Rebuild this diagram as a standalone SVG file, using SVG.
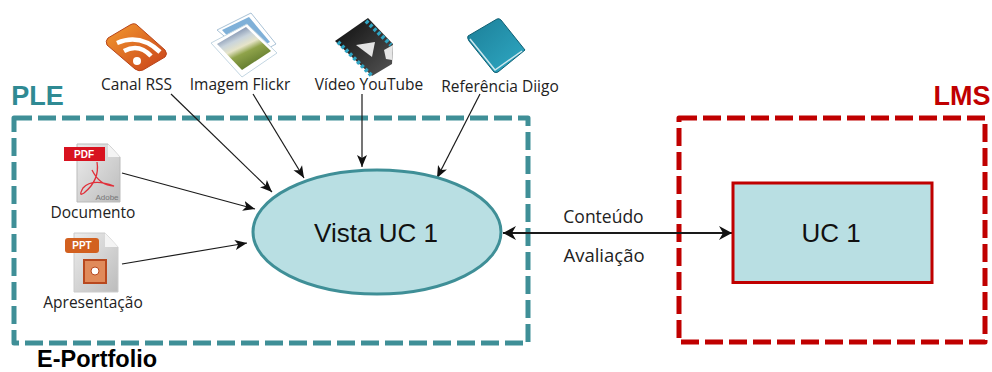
<svg xmlns="http://www.w3.org/2000/svg" width="992" height="372" viewBox="0 0 992 372">
<defs>
<style>
.lbl{font-family:"Open Sans","DejaVu Sans",sans-serif;font-size:15.5px;fill:#222;text-anchor:middle}
.lnk{font-size:17.5px}
.big{font-family:"Liberation Sans",Arial,sans-serif;font-size:26px;fill:#111;text-anchor:middle}
.head{font-family:"Liberation Sans",Arial,sans-serif;font-size:27px;font-weight:bold;text-anchor:middle}
.tag{font-family:"Liberation Sans",Arial,sans-serif;font-weight:bold;fill:#fff;text-anchor:middle}
.cn{fill:none;stroke:#1a1a1a;stroke-width:1.2;marker-end:url(#a)}
</style>
<marker id="a" markerUnits="userSpaceOnUse" markerWidth="14" markerHeight="12" refX="12" refY="6" orient="auto"><path d="M0 1 L12 6 L0 11 L3 6 Z" fill="#111"/></marker>
<marker id="b" markerUnits="userSpaceOnUse" markerWidth="16" markerHeight="16" refX="14" refY="8" orient="auto-start-reverse"><path d="M1 1 L14 8 L1 15 L5 8 Z" fill="#111"/></marker>
<linearGradient id="rss" x1="0" y1="0" x2="1" y2="1"><stop offset="0" stop-color="#f39a30"/><stop offset="1" stop-color="#c8401a"/></linearGradient>
<linearGradient id="pg" x1="0" y1="0" x2="1" y2="1"><stop offset="0" stop-color="#ececec"/><stop offset="1" stop-color="#bcbcbc"/></linearGradient>
<linearGradient id="ph" x1="0.2" y1="0" x2="0.8" y2="1"><stop offset="0" stop-color="#4f6490"/><stop offset=".3" stop-color="#c9d4dc"/><stop offset=".45" stop-color="#e6e4c8"/><stop offset=".58" stop-color="#8fa34a"/><stop offset="1" stop-color="#4f6a22"/></linearGradient>
<linearGradient id="vid" x1="0" y1="0" x2="1" y2="1"><stop offset="0" stop-color="#0c0c0c"/><stop offset="1" stop-color="#555"/></linearGradient>
<linearGradient id="book" x1="0" y1="0" x2="1" y2="1"><stop offset="0" stop-color="#1c7f98"/><stop offset="1" stop-color="#2fa9c4"/></linearGradient>
</defs>
<rect width="992" height="372" fill="#fff"/>

<g id="ple">
<rect x="14" y="118" width="514" height="225" fill="none" stroke="#3f8f97" stroke-width="5" stroke-dasharray="18 6" stroke-linejoin="round"/>
<text x="37.500" y="105" class="head" style="fill:#2f8a93">PLE</text>
<text x="97" y="366.500" style="font-family:'Liberation Sans',Arial,sans-serif;font-size:23.500px;font-weight:bold;fill:#000;text-anchor:middle">E-Portfolio</text>
</g>

<g id="lms">
<rect x="679" y="118" width="306" height="224" fill="none" stroke="#c00000" stroke-width="5" stroke-dasharray="18 6" stroke-linejoin="round"/>
<text x="962" y="105" class="head" style="fill:#c00000">LMS</text>
</g>

<g id="connectors">
<path class="cn" d="M171 94 L272 192"/>
<path class="cn" d="M253 94 L304 178"/>
<path class="cn" d="M362 94 L362 167"/>
<path class="cn" d="M480 94 L437 178"/>
<path class="cn" d="M122 173 L255 209"/>
<path class="cn" d="M122 264 L247 243"/>
<path d="M503 233 L732 233" fill="none" stroke="#1a1a1a" stroke-width="2" marker-start="url(#b)" marker-end="url(#b)"/>
</g>

<g id="vista-uc">
<ellipse cx="377" cy="232" rx="124" ry="62" fill="#b9dfe3" stroke="#3f8f97" stroke-width="3"/>
<text x="376" y="242" class="big">Vista UC 1</text>
</g>

<g id="uc1">
<rect x="733" y="183" width="199" height="99.500" fill="#b9dfe3" stroke="#c00000" stroke-width="3"/>
<text x="831" y="242" class="big">UC 1</text>
</g>

<g id="canal-rss">
<path d="M107 45 Q105 41 108 38 L130 25 Q135 22 138 26 L165 50 Q168 54 165 57 L143 70 Q139 72 135 69 Z" fill="url(#rss)" stroke="#b8441a" stroke-width="1"/>
<path d="M117 43 Q140 33 160 52" fill="none" stroke="#fff" stroke-width="4.500"/>
<path d="M124 51 Q139 43 151 56" fill="none" stroke="#fff" stroke-width="4.500"/>
<circle cx="137" cy="61" r="4" fill="#fff"/>
<text x="136.500" y="90" class="lbl">Canal RSS</text>
</g>

<g id="imagem-flickr">
<path d="M217 30 L251 13 L276 44 L250 58 Z" fill="#fff" stroke="#a9c2d6" stroke-width="1"/>
<path d="M222 30 L249 17 L270 42 L245 55 Z" fill="#7fb0d8"/>
<path d="M211 43 L247 24 L277 53 L242 77 Z" fill="#fff" stroke="#c3d6e2" stroke-width="1"/>
<path d="M217 44 L246 27 L271 51 L242 70 Z" fill="url(#ph)"/>
<text x="240" y="90" class="lbl">Imagem Flickr</text>
</g>

<g id="video-youtube">
<path d="M335 41 L368 18 L393 44 L392 64 L372 76 Z" fill="url(#vid)"/>
<path d="M338 42 L372 76" stroke="#2fa5c4" stroke-width="4" stroke-dasharray="3 2.500" fill="none"/>
<path d="M366 21 L391 45" stroke="#2fa5c4" stroke-width="4" stroke-dasharray="3 2.500" fill="none"/>
<path d="M356 45 L375 42 L372 57 Z" fill="#e4e4e4"/>
<path d="M384 50 L393 45 L392 60 L386 59 Z" fill="#e6e6e6"/>
<text x="369" y="90" class="lbl">Vídeo YouTube</text>
</g>

<g id="referencia-diigo">
<path d="M468 36 L497 19 Q499 18 501 20 L525 50 L498 72 Q496 73 494 72 L469 41 Q467 38 468 36 Z" fill="url(#book)" stroke="#0f5f73" stroke-width="1"/>
<path d="M470 39 L495 70 L522 51" fill="none" stroke="#cfe8ee" stroke-width="1.500"/>
<text x="500" y="92" class="lbl">Referência Diigo</text>
</g>

<g id="documento">
<path d="M77 144 L108 144 L120 157 L120 202 L77 202 Z" fill="url(#pg)" stroke="#bbb" stroke-width="1"/>
<path d="M108 144 L108 157 L120 157 Z" fill="#f4f4f4"/>
<rect x="64" y="147" width="41" height="14" fill="#d8121f"/>
<text x="84" y="158" class="tag" style="font-size:10px">PDF</text>
<path d="M97 162 Q100 180 84 193 Q78 197 83 188 Q92 178 114 186 Q100 186 92 170" fill="none" stroke="#e0303a" stroke-width="1.300"/>
<text x="107" y="200" style="font-family:'Liberation Sans',Arial,sans-serif;font-size:8px;fill:#777;text-anchor:middle">Adobe</text>
<text x="93" y="218" class="lbl">Documento</text>
</g>

<g id="apresentacao">
<path d="M74 233 L105 233 L118 247 L118 292 L74 292 Z" fill="url(#pg)" stroke="#ccc" stroke-width="1"/>
<path d="M105 233 L105 247 L118 247 Z" fill="#f4f4f4"/>
<rect x="65" y="238" width="34" height="15" rx="3" fill="#d2601f"/>
<text x="82" y="249" class="tag" style="font-size:10px">PPT</text>
<rect x="84" y="260" width="22" height="23" fill="#e08a5a" stroke="#b8481e" stroke-width="2"/>
<circle cx="95" cy="271" r="4" fill="#fff" stroke="#b8481e"/>
<text x="93" y="308" class="lbl">Apresentação</text>
</g>

<g id="labels">
<text x="603.500" y="223" class="lbl lnk">Conteúdo</text>
<text x="604" y="262" class="lbl" style="font-size:18.500px">Avaliação</text>
</g>
</svg>
